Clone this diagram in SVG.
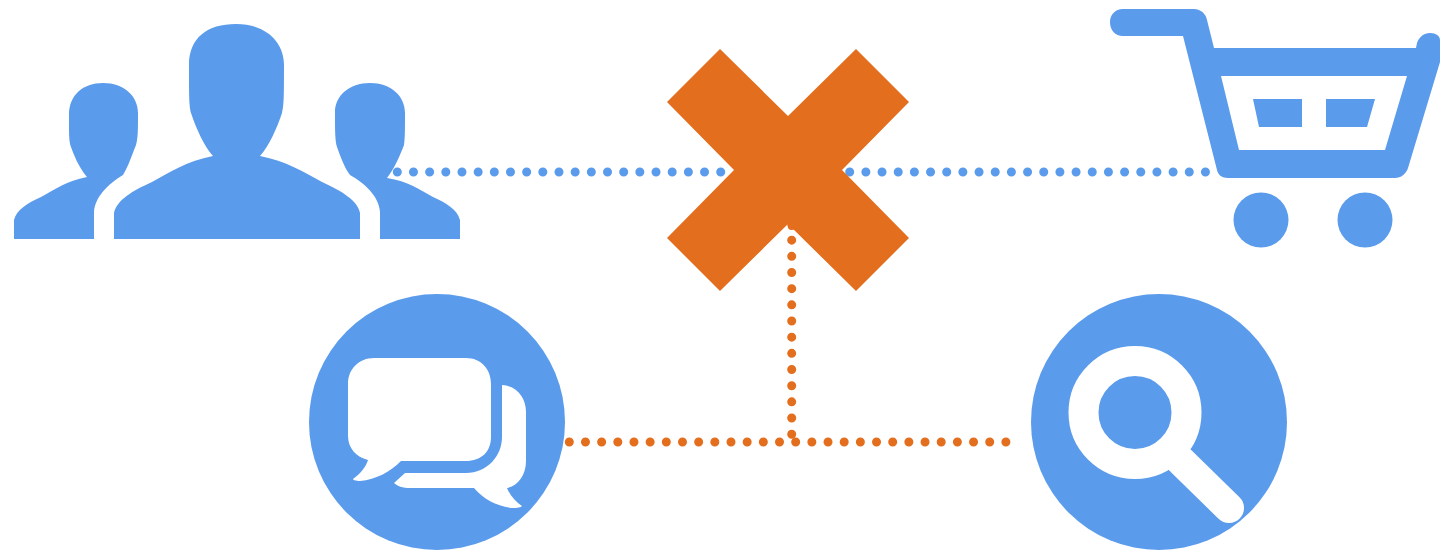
<svg xmlns="http://www.w3.org/2000/svg" width="1440" height="550" viewBox="0 0 1440 550">
<style>
.blue{fill:#5A9BEC}
.hole{fill:#fff}
.dotb{fill:none;stroke:#5A9BEC;stroke-width:9;stroke-linecap:round;stroke-dasharray:0 16.17}
.doto{fill:none;stroke:#E36E1E;stroke-width:9;stroke-linecap:round;stroke-dasharray:0 16.17}
</style>
<rect width="1440" height="550" fill="#fff"/>
<g id="connectors">
<path class="dotb" d="M397.3 172H725"/>
<path class="dotb" d="M849.7 172H1212"/>
<path class="doto" d="M791.7 224V442"/>
<path class="doto" d="M569.3 442H1016"/>
</g>
<g id="users">
<path class="blue" d="M14 239V220C17 209 28 203 41 197C56 189 66 181 87 177C78 166 74 155 71 147C69 141 69 135 69 115C69 95 83 83 103 83C124 83 138 96 138 113C138 130 138 138 136 145C132 155 128 167 123 175C108 184 95 197 94 212V239Z"/>
<path class="blue" d="M114 239V213C117 200 132 191 152 182C170 172 187 161 213 156C204 146 196 128 191 113C189 105 189 95 189 65C189 38 207 24 236 24C266 24 284 42 284 65C284 95 284 105 282 113C277 128 269 146 260 156C286 161 304 172 322 182C342 191 358 201 360 213V239Z"/>
<path class="blue" d="M380 239V212C379 197 366 184 350 175C344 167 340 155 337 147C335 141 335 130 335 112C335 96 349 83 370 83C391 83 405 96 405 113C405 130 405 138 404 145C400 155 395 168 387 178C408 181 420 190 433 197C446 203 457 209 460 220V239Z"/>
</g>
<g id="blocked">
<path fill="#E36E1E" d="M720 49L788 116L856 49L909 102L842 170L909 238L856 291L788 224L720 291L667 238L734 170L667 102Z"/>
<circle cx="791.7" cy="226" r="4" fill="#E36E1E"/>
</g>
<g id="cart">
<path class="blue" fill-rule="evenodd" d="M1123 9H1194C1201 9 1206 14 1207 20L1214 48H1416L1417 43C1419 37 1424 33 1430 33C1436 33 1440 36 1440 40V62L1408 168C1406 174 1401 178 1395 178H1228C1222 178 1218 175 1217 170L1183 36H1123C1115 36 1110 30 1110 22C1110 15 1115 9 1123 9ZM1221 76L1239 150H1385L1407 76Z"/>
<path class="blue" d="M1253 99H1302V127H1259Z"/>
<path class="blue" d="M1326 99H1375L1367 127H1326Z"/>
<circle class="blue" cx="1261" cy="220" r="27.5"/>
<circle class="blue" cx="1365" cy="220" r="27.5"/>
</g>
<g id="chat">
<circle class="blue" cx="437" cy="422" r="128"/>
<path class="hole" d="M374 358H466C481 358 491 369 491 384V437C491 452 481 461 466 461H401C391 471 376 480 360 481C356 481 353 480 353 479C360 474 366 467 368 460C356 457 348 448 348 436V384C348 369 359 358 374 358Z"/>
<path class="hole" d="M502 385C517 386 526 398 526 412V461C526 475 518 486 507 488C510 496 516 502 522 506C520 508 515 508 511 508C497 506 483 499 474 488H410C403 488 397 486 394 483L405 473H466C487 473 502 456 502 437Z"/>
</g>
<g id="search">
<circle class="blue" cx="1159" cy="422" r="128"/>
<circle cx="1135" cy="412.500" r="51.500" fill="none" stroke="#fff" stroke-width="30"/>
<path d="M1181 461L1229 508" fill="none" stroke="#fff" stroke-width="30" stroke-linecap="round"/>
</g>
</svg>
